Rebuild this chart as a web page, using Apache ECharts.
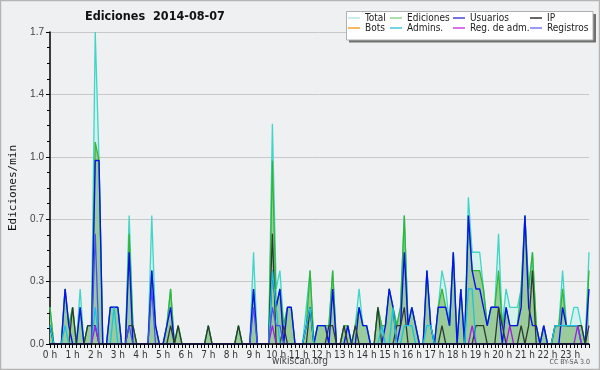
<!DOCTYPE html>
<html>
<head>
<meta charset="utf-8">
<script src="https://cdn.jsdelivr.net/npm/echarts@6/dist/echarts.min.js"></script>
<style>html,body{margin:0;padding:0;background:#eff0f1;}#c{width:600px;height:370px;}</style>
</head>
<body>
<div id="c"></div>
<script>
const titleText = 'Ediciones  2014-08-07';
const hourLabels = ['0 h','1 h','2 h','3 h','4 h','5 h','6 h','7 h','8 h','9 h','10 h','11 h','12 h','13 h','14 h','15 h','16 h','17 h','18 h','19 h','20 h','21 h','22 h','23 h'];
const slotMinutes = ['00','10','20','30','40','50'];
const yTicks = [0, 0.34, 0.68, 1.02, 1.36, 1.7];

const total = [
0.2,0,0,0,0.3,0.1, 0.2,0,0.3,0,0.1,0.1, 1.7,1.0,0,0,0.2,0.2, 0.2,0,0,0.7,0.1,0,
0,0,0,0.7,0.1,0, 0,0.1,0.3,0,0.1,0, 0,0,0,0,0,0, 0.1,0,0,0,0,0,
0,0,0.1,0,0,0, 0.5,0,0,0,0,1.2, 0.3,0.4,0.1,0.2,0.2,0, 0,0,0.2,0.4,0,0.1,
0.1,0.1,0.1,0.4,0,0, 0.1,0.1,0,0.1,0.3,0.1, 0.1,0,0,0.2,0.1,0.1, 0.3,0.2,0.1,0.2,0.7,0.1,
0.2,0.1,0,0,0.4,0.1, 0,0.2,0.4,0.3,0.1,0.5, 0,0.3,0,0.8,0.5,0.5, 0.5,0.3,0.1,0.2,0.2,0.6,
0.1,0.3,0.2,0.2,0.2,0.3, 0.7,0.3,0.5,0.1,0,0.1, 0,0,0.1,0.1,0.4,0.1, 0.1,0.2,0.2,0.1,0,0.5];
const ediciones = [
0.2,0,0,0,0.3,0.1, 0.2,0,0.2,0,0.1,0.1, 1.1,1.0,0,0,0.2,0.2, 0.2,0,0,0.6,0.1,0,
0,0,0,0.4,0.1,0, 0,0.1,0.3,0,0.1,0, 0,0,0,0,0,0, 0.1,0,0,0,0,0,
0,0,0.1,0,0,0, 0.3,0,0,0,0,1.0, 0.2,0.3,0.1,0.2,0.2,0, 0,0,0.1,0.4,0,0.1,
0.1,0.1,0.1,0.4,0,0, 0.1,0.1,0,0.1,0.2,0.1, 0.1,0,0,0.2,0.1,0.1, 0.3,0.2,0.1,0.2,0.7,0.1,
0.2,0.1,0,0,0.4,0.1, 0,0.2,0.3,0.2,0.1,0.5, 0,0.3,0,0.7,0.4,0.4, 0.4,0.3,0.1,0.2,0.2,0.4,
0.1,0.2,0.1,0.1,0.1,0.3, 0.7,0.3,0.5,0.1,0,0.1, 0,0,0.1,0.1,0.3,0.1, 0.1,0.1,0.1,0.1,0,0.4];
const usuarios = [
0.1,0,0,0,0.3,0.1, 0,0,0.2,0,0,0, 1.0,1.0,0,0,0.2,0.2, 0.2,0,0,0.5,0,0,
0,0,0,0.4,0.1,0, 0,0.1,0.2,0,0,0, 0,0,0,0,0,0, 0,0,0,0,0,0,
0,0,0,0,0,0, 0.3,0,0,0,0,0.4, 0.2,0.3,0,0.2,0.2,0, 0,0,0.1,0.2,0,0.1,
0.1,0.1,0,0.3,0,0, 0,0.1,0,0,0.2,0.1, 0.1,0,0,0,0,0.1, 0.3,0.2,0,0.1,0.5,0.1,
0.2,0.1,0,0,0.4,0.1, 0,0.2,0.2,0.2,0.1,0.5, 0,0.3,0,0.7,0.4,0.3, 0.3,0.2,0.1,0.2,0.2,0.2,
0,0.2,0.1,0.1,0.1,0.2, 0.7,0.2,0.1,0.1,0,0.1, 0,0,0,0,0.2,0.1, 0.1,0.1,0.1,0,0,0.3];
const ip = [
0.1,0,0,0,0,0, 0.2,0,0,0,0.1,0.1, 0.1,0,0,0,0,0, 0,0,0,0.1,0.1,0,
0,0,0,0,0,0, 0,0,0.1,0,0.1,0, 0,0,0,0,0,0, 0.1,0,0,0,0,0,
0,0,0.1,0,0,0, 0,0,0,0,0,0.6, 0,0,0.1,0,0,0, 0,0,0,0.2,0,0,
0,0,0.1,0.1,0,0, 0.1,0,0,0.1,0,0, 0,0,0,0.2,0,0, 0,0,0.1,0.1,0.2,0,
0,0,0,0,0,0, 0,0,0.1,0,0,0, 0,0,0,0,0,0.1, 0.1,0.1,0,0,0,0.2,
0.1,0,0,0,0,0.1, 0,0.1,0.4,0,0,0, 0,0,0.1,0.1,0.1,0.1, 0.1,0.1,0.1,0.1,0,0.1];
const bots = [];
const admins = [
0.1,0,0,0,0.1,0, 0,0,0,0,0,0, 0.2,0,0,0,0,0.2, 0,0,0,0,0,0,
0,0,0,0,0,0, 0,0,0,0,0,0, 0,0,0,0,0,0, 0,0,0,0,0,0,
0,0,0,0,0,0, 0,0,0,0,0,0.4, 0.2,0,0,0,0,0, 0,0,0.1,0.2,0,0,
0,0,0,0,0,0, 0,0,0,0,0,0, 0,0,0,0,0.1,0, 0,0.2,0,0,0.1,0.1,
0.1,0,0,0,0.1,0.1, 0,0,0,0,0,0, 0,0,0,0.3,0.3,0, 0,0,0,0,0,0,
0,0,0,0,0,0, 0,0,0,0,0,0, 0,0,0.1,0.1,0.1,0.1, 0.1,0.1,0.1,0,0,0];
const regAdm = [
0,0,0,0,0,0, 0,0,0,0,0,0, 0.1,0,0,0,0,0, 0,0,0,0,0,0,
0,0,0,0,0,0, 0,0,0,0,0,0, 0,0,0,0,0,0, 0,0,0,0,0,0,
0,0,0,0,0,0, 0,0,0,0,0,0.1, 0,0,0,0,0,0, 0,0,0,0,0,0,
0,0,0,0,0,0, 0,0,0,0,0,0, 0,0,0,0,0,0, 0,0,0,0,0,0,
0,0,0,0,0,0, 0,0,0,0,0,0, 0,0,0,0,0.1,0, 0,0,0,0,0,0,
0,0,0.1,0,0,0, 0,0,0,0,0,0, 0,0,0,0,0,0, 0,0,0.1,0,0,0];
const registros = [
0,0,0,0,0,0, 0,0,0,0,0,0, 0.6,0,0,0,0,0, 0,0,0,0.1,0,0,
0,0,0,0.3,0,0, 0,0,0,0,0,0, 0,0,0,0,0,0, 0,0,0,0,0,0,
0,0,0,0,0,0, 0.2,0,0,0,0,0.2, 0.1,0.1,0,0,0,0, 0,0,0,0,0,0,
0,0,0,0,0,0, 0,0,0,0,0,0, 0,0,0,0,0,0, 0,0,0,0,0,0,
0,0,0,0,0,0, 0,0,0,0,0,0, 0,0,0,0,0,0, 0,0,0,0,0,0,
0,0,0,0,0,0, 0,0,0,0,0,0, 0,0,0,0,0,0, 0,0,0,0,0,0];

const categories = [];
hourLabels.forEach((h, hi) => slotMinutes.forEach(m => categories.push(hi + ':' + m)));

const condensed = '"DejaVu Sans Condensed", "DejaVu Sans", sans-serif';
function lineSeries(name, data, color, width, area) {
  const s = {name, type: 'line', data, showSymbol: false, symbol: 'none',
    lineStyle: {color, width}, itemStyle: {color}, emphasis: {disabled: true}};
  if (area) s.areaStyle = {color: area, opacity: 1};
  return s;
}
function legendCol(left, items) {
  return {left, top: 13, orient: 'vertical', padding: 0, itemGap: 0,
    itemWidth: 12, itemHeight: 1.5, icon: 'rect', selectedMode: false,
    textStyle: {fontSize: 10, lineHeight: 10, color: '#222', fontFamily: condensed},
    data: items.map(([name, c]) => ({name, itemStyle: {color: c}}))};
}

const chart = echarts.init(document.getElementById('c'), null, {renderer: 'canvas'});
chart.setOption({
  animation: false,
  backgroundColor: '#eff0f1',
  title: {text: titleText, left: 85, top: 10, padding: 0,
    textStyle: {fontSize: 12.5, fontWeight: 'bold', color: '#111', fontFamily: condensed}},
  graphic: [
    {type: 'rect', silent: true, z: 0, shape: {x: 0.5, y: 0.5, width: 599, height: 369},
      style: {fill: 'none', stroke: '#b4b4b4', lineWidth: 1.5}},
    {type: 'rect', silent: true, z: 1, shape: {x: 349, y: 14, width: 247, height: 28.5},
      style: {fill: '#707070'}},
    {type: 'rect', silent: true, z: 2, shape: {x: 346.5, y: 11.5, width: 246.5, height: 28.5},
      style: {fill: '#ffffff', stroke: '#b0b0b0', lineWidth: 1}},
    {type: 'text', silent: true, z: 2, x: 300, y: 361,
      style: {text: 'wikiscan.org', fill: '#444', fontSize: 10, fontFamily: condensed, align: 'center', verticalAlign: 'middle'}},
    {type: 'text', silent: true, z: 2, x: 590, y: 362,
      style: {text: 'CC BY-SA 3.0', fill: '#555', fontSize: 7, fontFamily: condensed, align: 'right', verticalAlign: 'middle'}}
  ],
  legend: [
    legendCol(348, [['Total', '#b4e8e6'], ['Bots', '#f5a030']]),
    legendCol(390, [['Ediciones', '#8fd48f'], ['Admins.', '#40c8d8']]),
    legendCol(453, [['Usuarios', '#4444dd'], ['Reg. de adm.', '#d040e0']]),
    legendCol(530, [['IP', '#333333'], ['Registros', '#7878f0']])
  ],
  grid: {left: 47, right: 11, top: 32, bottom: 26},
  xAxis: {
    type: 'category', data: categories, boundaryGap: false, z: 4,
    axisLine: {lineStyle: {color: '#000', width: 1.5}},
    axisTick: {show: true, interval: 0, length: 4, lineStyle: {color: '#000'}},
    axisLabel: {interval: 5, margin: 6, fontSize: 10, color: '#333', fontFamily: condensed,
      formatter: (v, idx) => hourLabels[Math.floor(idx / 6)]},
    splitLine: {show: false}
  },
  yAxis: {
    type: 'value', min: yTicks[0], max: yTicks[yTicks.length - 1], interval: yTicks[1],
    name: 'Ediciones/min', nameLocation: 'middle', nameGap: 31,
    nameTextStyle: {fontFamily: '"DejaVu Sans Mono", monospace', fontSize: 11, color: '#111'},
    axisLine: {show: true, lineStyle: {color: '#000', width: 1.5}},
    axisTick: {show: true, length: 4, lineStyle: {color: '#000'}},
    minorTick: {show: true, splitNumber: 4, length: 3, lineStyle: {color: '#000'}},
    axisLabel: {formatter: v => v.toFixed(1), fontSize: 10, color: '#444', margin: 6, fontFamily: '"Liberation Sans", Arial, sans-serif'},
    splitLine: {show: true, lineStyle: {color: '#c8c8c8', width: 1}}
  },
  series: [
    lineSeries('Total', total, '#3fd5c8', 1.3, '#d5f1ed'),
    lineSeries('Ediciones', ediciones, '#35b535', 1.3, '#9acb9a'),
    lineSeries('Usuarios', usuarios, '#0a10f0', 1.4),
    lineSeries('IP', ip, '#2e3a30', 1.3),
    lineSeries('Bots', bots, '#f5a030', 1.3),
    lineSeries('Admins.', admins, '#18c4e0', 1.3),
    lineSeries('Reg. de adm.', regAdm, '#a020e0', 1.3),
    lineSeries('Registros', registros, '#4a50f0', 1.3)
  ]
});
</script>
</body>
</html>
